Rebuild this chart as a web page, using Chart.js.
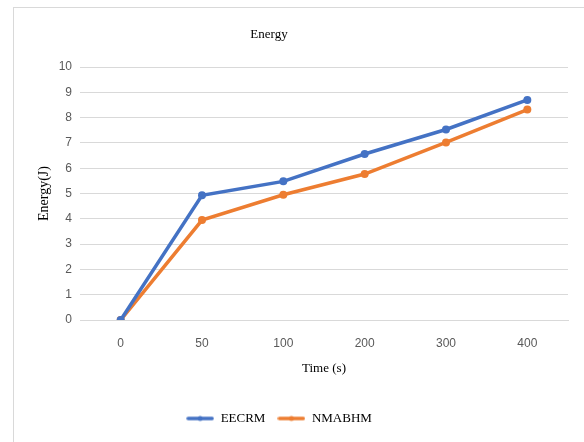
<!DOCTYPE html>
<html>
<head>
<meta charset="utf-8">
<script src="https://cdn.jsdelivr.net/npm/chart.js@4"></script>
<style>
  html, body { margin: 0; padding: 0; background: #fff; overflow: hidden; }
  #wrap { position: relative; width: 584px; height: 442px; }
  #frame { position: absolute; left: 13px; top: 7px; width: 620px; height: 480px; border: 1px solid #d9d9d9; }
  canvas { position: absolute; left: 0; top: 0; }
</style>
</head>
<body>
<div id="wrap">
  <div id="frame"></div>
  <canvas id="energyChart" width="584" height="442"></canvas>
</div>
<script>
const timeLabels = ['0', '50', '100', '200', '300', '400'];
const eecrmEnergy = [0, 4.93, 5.48, 6.56, 7.53, 8.7];
const nmabhmEnergy = [0, 3.95, 4.95, 5.77, 7.02, 8.32];
const yTicks = [0, 1, 2, 3, 4, 5, 6, 7, 8, 9, 10];

const blue = '#4472C4';
const orange = '#ED7D31';
const serif = '"Liberation Serif", "DejaVu Serif", serif';
const sans = '"Liberation Sans", Arial, sans-serif';

// small legend marker: line with a dot in the middle
function legendMarker(color) {
  const c = document.createElement('canvas');
  c.width = 28;
  c.height = 8;
  const g = c.getContext('2d');
  g.strokeStyle = color;
  g.lineWidth = 3.5;
  g.lineCap = 'round';
  g.beginPath();
  g.moveTo(2, 4);
  g.lineTo(26, 4);
  g.stroke();
  g.fillStyle = color;
  g.beginPath();
  g.arc(14, 4, 2.5, 0, Math.PI * 2);
  g.fill();
  return c;
}

// the original chart's title and legend sit a bit left of the plot centre
const shiftBoxes = {
  id: 'shiftBoxes',
  afterLayout(chart) {
    const moves = [[chart.titleBlock, -30], [chart.legend, -20]];
    moves.forEach(([box, dx]) => {
      if (!box) return;
      box.left += dx;
      box.right += dx;
    });
  },
};

const ctx = document.getElementById('energyChart').getContext('2d');
new Chart(ctx, {
  type: 'line',
  data: {
    labels: timeLabels,
    datasets: [
      {
        label: 'EECRM',
        data: eecrmEnergy,
        borderColor: blue,
        backgroundColor: blue,
        borderWidth: 3.5,
        pointRadius: 4,
        pointBorderWidth: 0,
        tension: 0,
      },
      {
        label: 'NMABHM',
        data: nmabhmEnergy,
        borderColor: orange,
        backgroundColor: orange,
        borderWidth: 3.5,
        pointRadius: 4,
        pointBorderWidth: 0,
        tension: 0,
      },
    ],
  },
  plugins: [shiftBoxes],
  options: {
    responsive: false,
    animation: false,
    layout: { padding: { left: 30, right: 16, top: 0, bottom: 7 } },
    plugins: {
      title: {
        display: true,
        text: 'Energy',
        color: '#000',
        font: { family: serif, size: 13, weight: 'normal' },
        padding: { top: 27, bottom: 24.4 },
      },
      legend: {
        position: 'bottom',
        labels: {
          usePointStyle: true,
          pointStyleWidth: 28,
          padding: 12,
          color: '#000',
          font: { family: serif, size: 13 },
          generateLabels: (chart) => {
            const items = Chart.defaults.plugins.legend.labels.generateLabels(chart);
            const colors = [blue, orange];
            items.forEach((it, i) => {
              it.pointStyle = legendMarker(colors[i]);
            });
            return items;
          },
        },
      },
      tooltip: { enabled: false },
    },
    scales: {
      x: {
        offset: true,
        grid: { display: false, drawTicks: false },
        border: { display: true, color: '#d9d9d9' },
        ticks: { color: '#595959', font: { family: sans, size: 12 }, padding: 16 },
        title: {
          display: true,
          text: 'Time (s)',
          color: '#000',
          font: { family: serif, size: 13 },
          padding: { top: 4, bottom: 24 },
        },
        afterFit: (scale) => { scale.height = 80; },
      },
      y: {
        min: 0,
        max: 10,
        afterBuildTicks: (scale) => {
          scale.ticks = yTicks.map((v) => ({ value: v }));
        },
        grid: { color: '#d9d9d9', drawTicks: false },
        border: { display: false },
        ticks: { color: '#595959', font: { family: sans, size: 12 }, padding: 8 },
        title: {
          display: true,
          text: 'Energy(J)',
          color: '#000',
          font: { family: serif, size: 14 },
          padding: { top: 6, bottom: 0 },
        },
        afterFit: (scale) => { scale.width = 50; },
      },
    },
  },
});
</script>
</body>
</html>
